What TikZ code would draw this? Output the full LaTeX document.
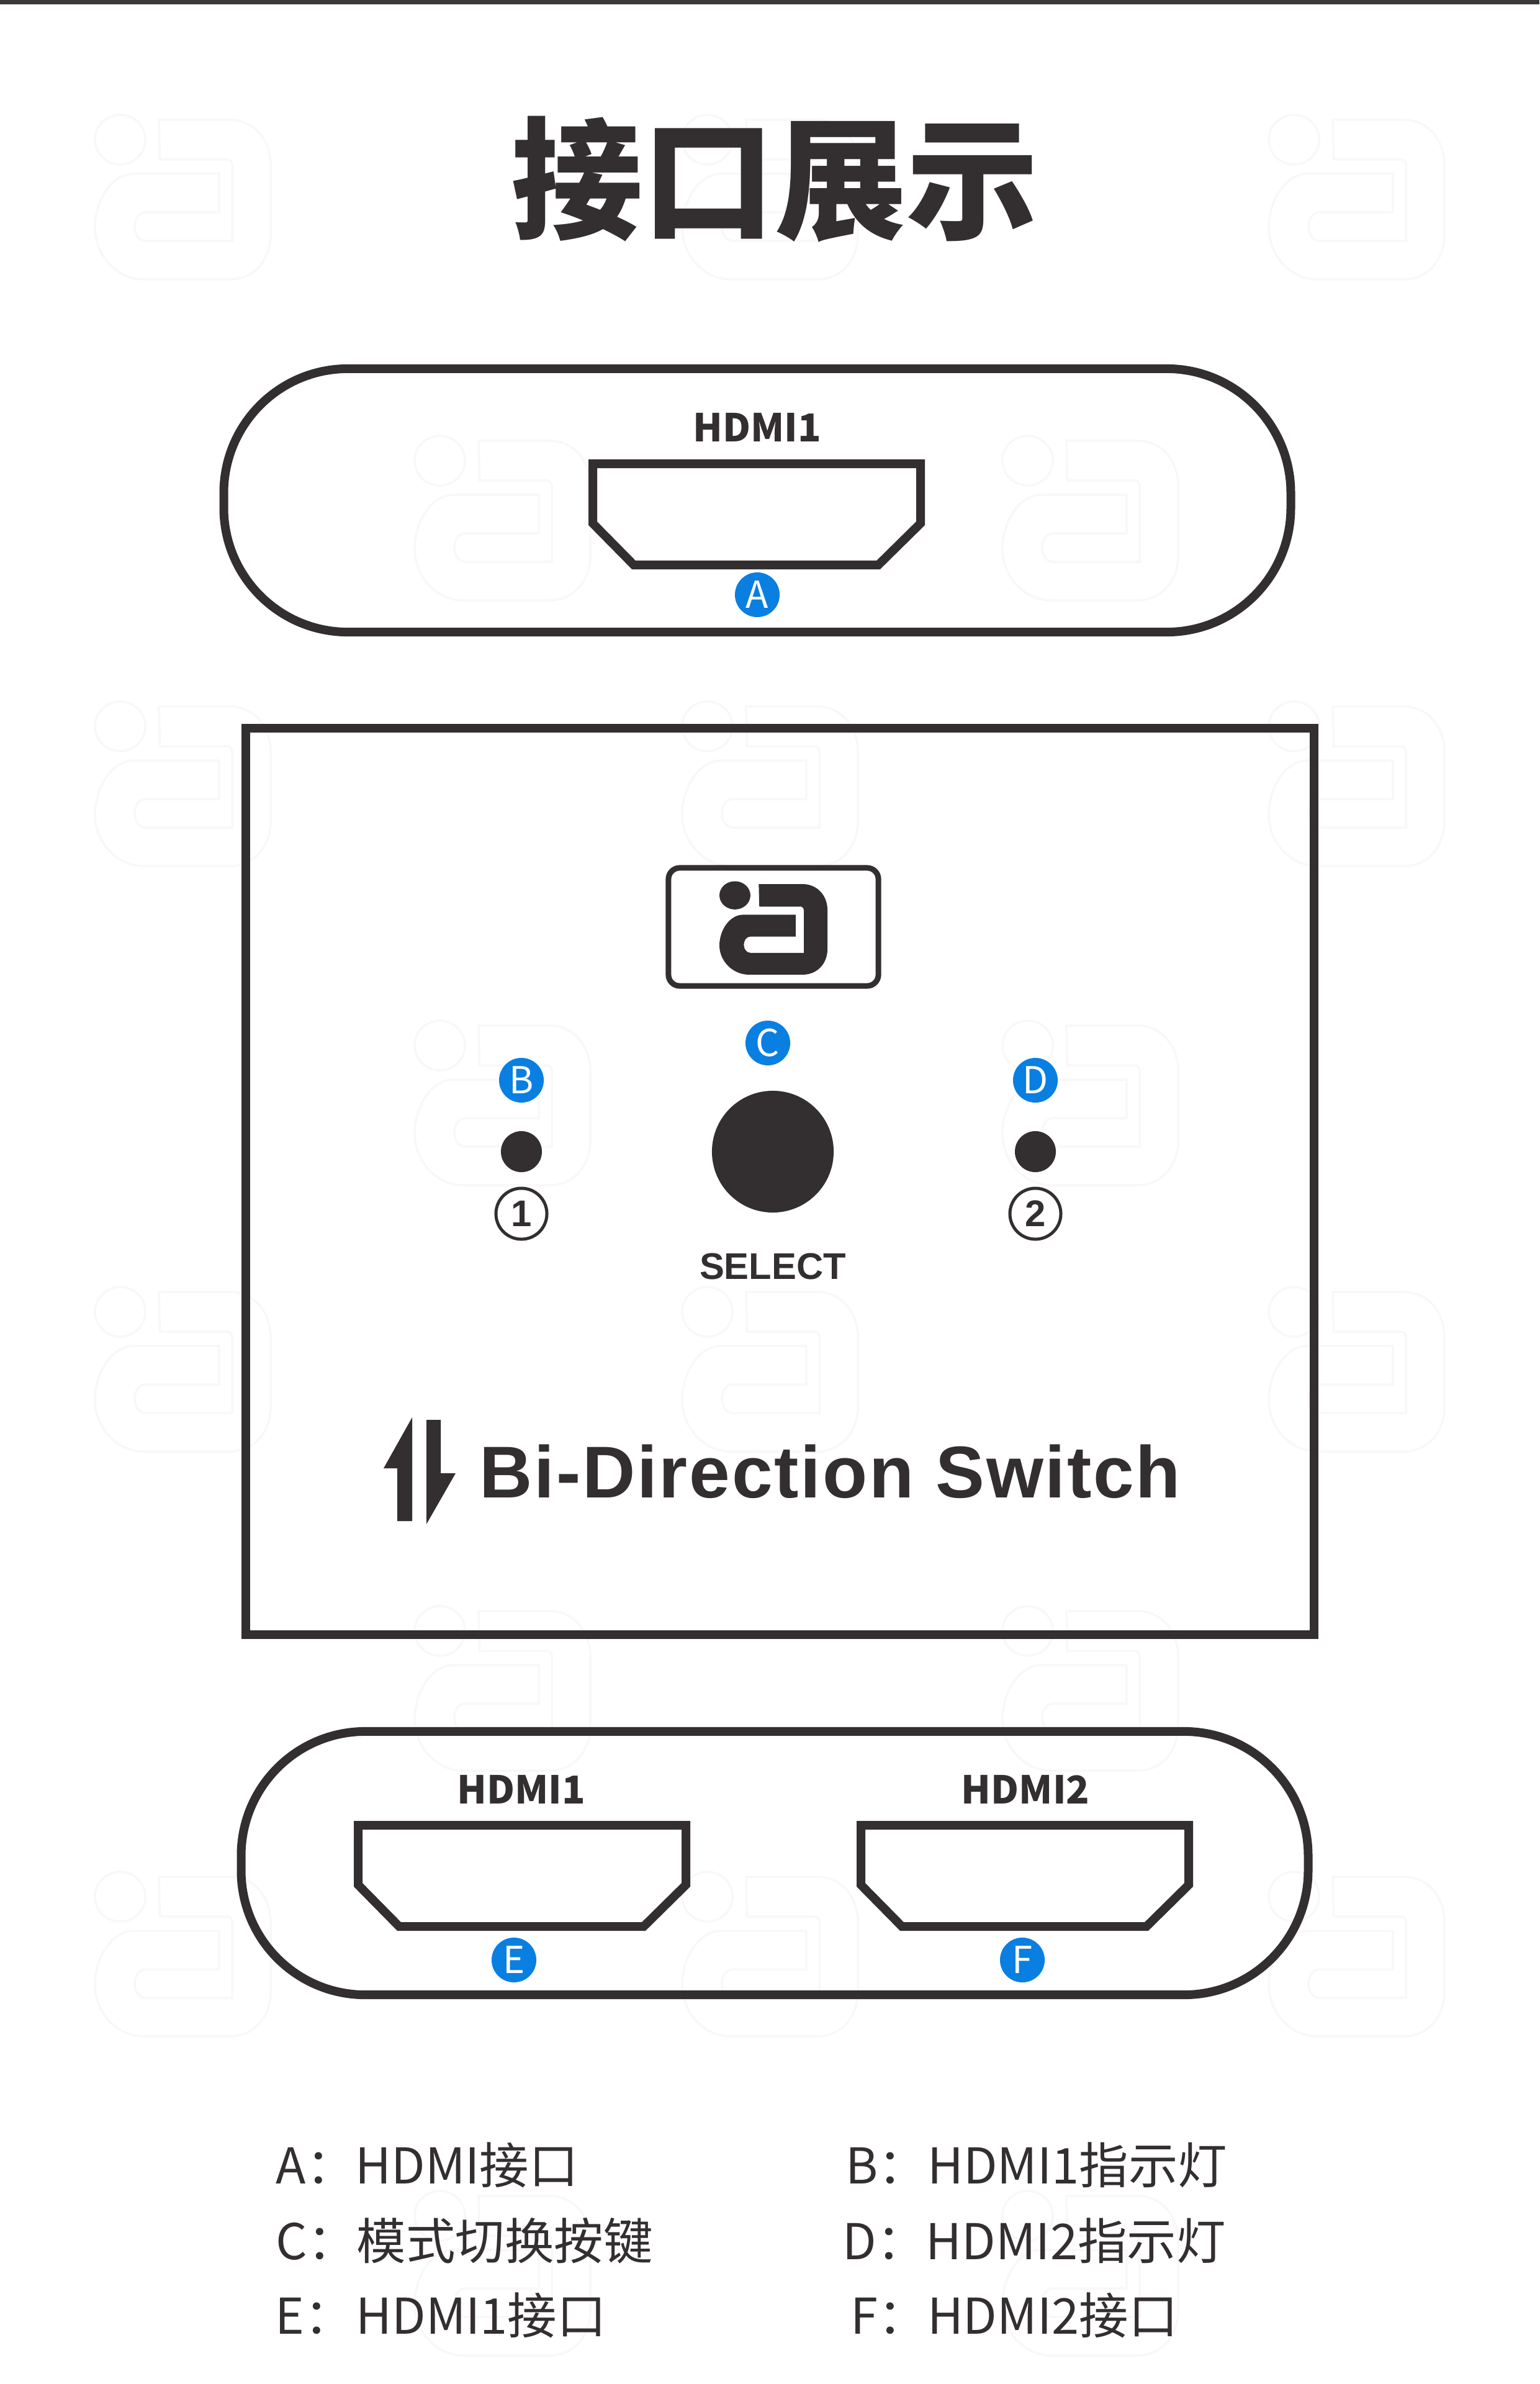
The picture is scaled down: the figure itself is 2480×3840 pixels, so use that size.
\documentclass[tikz,border=0pt]{standalone}
\usepackage{fontspec}
\setmainfont{Liberation Sans}
\newfontfamily\cjkfont{Noto Sans CJK SC}
\usetikzlibrary{positioning}
\definecolor{inkdark}{HTML}{332E2F}
\definecolor{badgeblue}{HTML}{0A7FE2}
\definecolor{markgray}{HTML}{F8F8F8}
\newcommand{\logopath}{(101.5,0) -- (214,0) .. controls (254,0) and (279,34) .. (279,74) -- (279,184) .. controls (279,224) and (254,257) .. (214,257) -- (77,257) .. controls (34,257) and (0,218) .. (0,174) .. controls (0,130) and (27,87) .. (61,87) -- (197,87) -- (197,149) -- (80,149) .. controls (70,149) and (63,160) .. (63,172) .. controls (63,184) and (70,195) .. (80,195) -- (218,195) -- (218,74) .. controls (218,69) and (215,64) .. (211,64) -- (103,64) -- cycle (40,32) circle (40)}
\tikzset{
  body/.style={draw=inkdark, line width=0.14cm, minimum width=17.18cm, minimum height=4.24cm, rounded corners=2cm, inner sep=0},
  portline/.style={draw=inkdark, line width=0.14cm},
  portname/.style={inner sep=0, text=inkdark, font=\cjkfont\bfseries\fontsize{17.6}{19}\selectfont},
  badge/.style={circle, fill=badgeblue, text=white, minimum size=0.72cm, inner sep=0, font=\cjkfont\fontsize{17}{18}\selectfont},
  led/.style={circle, fill=inkdark, minimum size=0.66cm, inner sep=0},
  ledno/.style={circle, draw=inkdark, line width=0.05cm, minimum size=0.82cm, inner sep=0, text=inkdark, font=\bfseries\fontsize{17}{18}\selectfont},
  legend/.style={anchor=base west, inner sep=0, text=inkdark, font=\cjkfont\fontsize{22.6}{25}\selectfont},
  pics/hdmiport/.style={code={\draw[portline] (0,0) -- (528,0) -- (528,96) -- (460,163) -- (66,163) -- (0,96) -- cycle;}}
}
\begin{document}
\begin{tikzpicture}[x=0.01cm, y=-0.01cm]
  \useasboundingbox (0,0) rectangle (2480,3840);
  \fill[white] (0,0) rectangle (2480,3840);
  \fill[inkdark!90!gray] (0,0) rectangle (2480,7);
  \foreach \wx in {153,1099,2044} \foreach \wy in {193,1138,2081,3023}
    \draw[markgray, line width=0.035cm, shift={(\wx,\wy)}, xscale=1.015] \logopath;
  \foreach \wx in {668,1615} \foreach \wy in {710,1652,2595,3537}
    \draw[markgray, line width=0.035cm, shift={(\wx,\wy)}, xscale=1.015] \logopath;

  \node[text=inkdark, inner sep=0, font=\cjkfont\bfseries\fontsize{60.4}{64}\selectfont] (title) at (1248,289) {接口展示};

  \node[body] (topbody) at (1220,806) {};
  \node[portname] (topname) at (1220,688) {HDMI1};
  \pic (topport) at (955,747) {hdmiport};
  \node[badge] (a) at (1220,958) {A};

  \node[draw=inkdark, line width=0.14cm, minimum width=17.2cm, minimum height=14.6cm, inner sep=0] (panel) at (1256,1903) {};
  \node[draw=inkdark, line width=0.09cm, rounded corners=0.18cm, minimum width=3.38cm, minimum height=1.9cm, inner sep=0] (logobox) at (1246,1493) {};
  \fill[inkdark, even odd rule, shift={(1159,1424)}, xscale=0.624, yscale=0.568] \logopath;

  \node[badge] (b) at (840,1740) {B};
  \node[led] (led1) at (840,1855) {};
  \node[ledno] (no1) at (840,1955) {1};
  \node[badge] (c) at (1237,1680) {C};
  \node[circle, fill=inkdark, minimum size=1.96cm, inner sep=0] (select) at (1245,1855) {};
  \node[inner sep=0, text=inkdark, font=\bfseries\fontsize{17}{18}\selectfont] (selectname) at (1245,2040) {SELECT};
  \node[badge] (d) at (1668,1740) {D};
  \node[led] (led2) at (1668,1855) {};
  \node[ledno] (no2) at (1668,1955) {2};

  \fill[inkdark] (664,2283) -- (618,2365) -- (640,2365) -- (640,2450) -- (664,2450) -- cycle;
  \fill[inkdark] (687,2287) -- (710,2287) -- (710,2373) -- (734,2373) -- (687,2455) -- cycle;
  \node[anchor=base west, inner sep=0, text=inkdark, font=\bfseries\fontsize{33.6}{36}\selectfont\addfontfeature{LetterSpace=2.3}] (switchname) at (772,2412) {Bi-Direction Switch};

  \node[body] (lowbody) at (1248,3001) {};
  \node[portname] (lowname1) at (840,2882) {HDMI1};
  \node[portname] (lowname2) at (1652,2882) {HDMI2};
  \pic (lowport1) at (577,2940) {hdmiport};
  \pic (lowport2) at (1387,2940) {hdmiport};
  \node[badge] (e) at (828,3157) {E};
  \node[badge] (f) at (1647,3157) {F};

  \node[legend] (lega) at (444,3517) {A：HDMI接口};
  \node[legend] (legb) at (1362,3517) {B：HDMI1指示灯};
  \node[legend] (legc) at (444,3639) {C：模式切换按键};
  \node[legend] (legd) at (1357,3639) {D：HDMI2指示灯};
  \node[legend] (lege) at (443,3759) {E：\hspace{1pt}HDMI1接口};
  \node[legend] (legf) at (1370,3759) {F：HDMI2接口};
\end{tikzpicture}
\end{document}
